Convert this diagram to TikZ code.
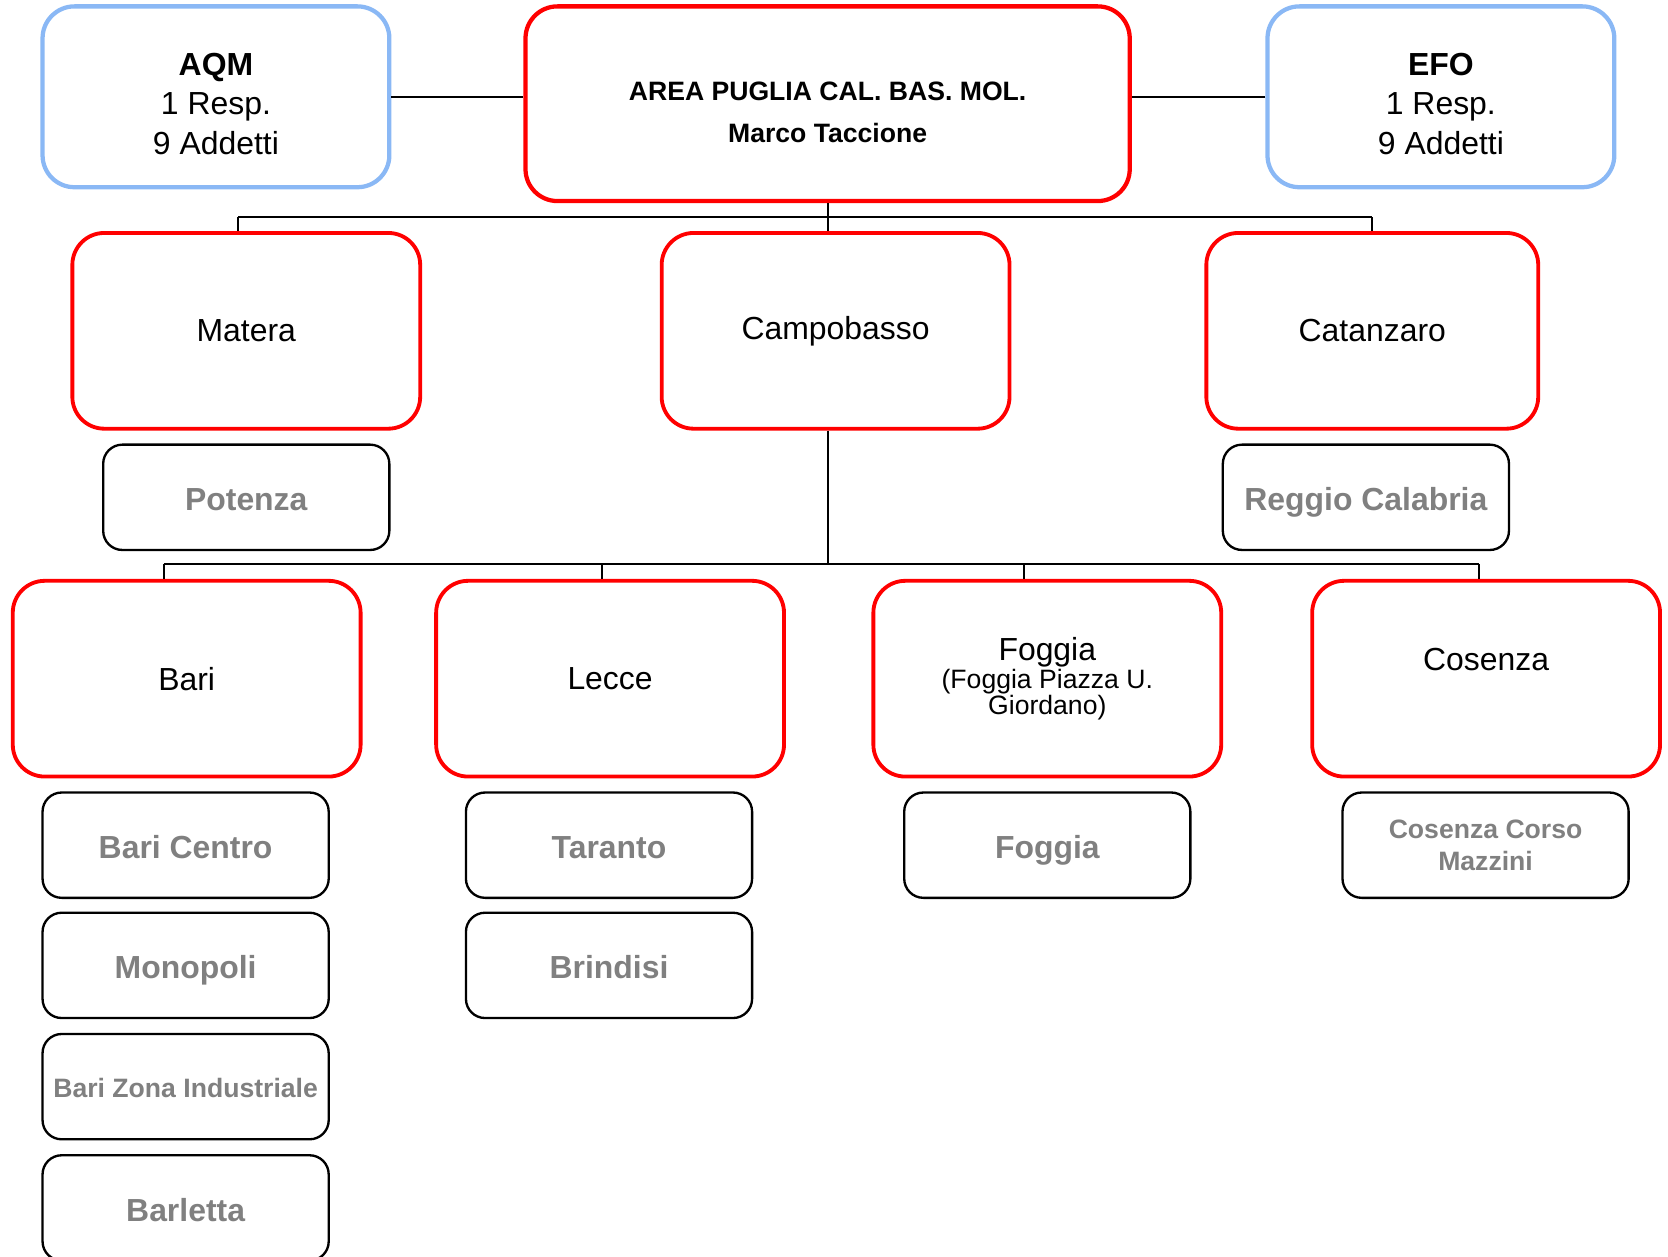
\documentclass[tikz,border=0pt]{standalone}
\usepackage{fontspec}
\setmainfont{Liberation Sans}
\definecolor{azul}{RGB}{138,184,245}
\definecolor{grigio}{RGB}{128,128,128}

\begin{document}
\begin{tikzpicture}[x=0.5pt, y=-0.5pt,
    every node/.style={font=\fontsize{15}{18.5}\selectfont, align=center, inner sep=2pt},
    staff/.style={draw=azul, line width=2pt, rounded corners=15pt,
        minimum width=163pt, minimum height=85pt},
    direzione/.style={draw=red, line width=2pt, rounded corners=15pt,
        minimum width=284pt, minimum height=91.5pt},
    sede/.style={draw=red, line width=1.8pt, rounded corners=15pt,
        minimum width=163.5pt, minimum height=92pt},
    filiale/.style={draw=black, line width=1.1pt, rounded corners=9pt,
        minimum width=134.5pt, minimum height=49.5pt, text=grigio,
        text height=13pt, text depth=0.5pt,
        font=\bfseries\fontsize{15}{18}\selectfont},
    linea/.style={line width=1pt}]
    \useasboundingbox (0,0) rectangle (1568,1181);
    % Direzione di area y staff (testo un po' sotto il centro)
    \node[staff, label={[yshift=-3.25pt]center:{\textbf{AQM}\\1 Resp.\\9 Addetti}}] (aqm) at (203,91) {};
    \node[direzione, label={[yshift=-4pt, font=\bfseries\fontsize{12.5}{20}\selectfont]center:{AREA PUGLIA CAL. BAS. MOL.\\Marco Taccione}}] (dir) at (778,97.5) {};
    \node[staff, label={[yshift=-3.25pt]center:{\textbf{EFO}\\1 Resp.\\9 Addetti}}] (efo) at (1354.5,91) {};
    % Sedi del primo livello
    \node[sede] (matera) at (231.5,311) {Matera};
    \node[sede] (campobasso) at (785.5,311) {Campobasso};
    \node[sede, minimum width=156pt] (catanzaro) at (1290,311) {Catanzaro};
    \node[filiale] (potenza) at (231.5,467.5) {Potenza};
    \node[filiale] (reggio) at (1284,467.5) {Reggio Calabria};
    % Sedi del secondo livello
    \node[sede] (bari) at (175.5,638) {Bari};
    \node[sede] (lecce) at (573.5,638) {Lecce};
    \node[sede, font=\fontsize{12.5}{12}\selectfont] (foggia) at (984.5,638)
        {{\fontsize{15}{12}\selectfont Foggia}\\[0pt](Foggia Piazza U.\\Giordano)};
    \node[sede] (cosenza) at (1397,638) {Cosenza\\\mbox{}};
    % Filiali (sotto ogni sede)
    \node[filiale] (baricentro) at (174.5,794.5) {Bari Centro};
    \node[filiale] (monopoli) at (174.5,907.5) {Monopoli};
    \node[filiale, text height=10.5pt, font=\bfseries\fontsize{12.5}{15}\selectfont] (barizona) at (174.5,1021.5) {Bari Zona Industriale};
    \node[filiale] (barletta) at (174.5,1135.5) {Barletta};
    \node[filiale] (taranto) at (572.5,794.5) {Taranto};
    \node[filiale] (brindisi) at (572.5,907.5) {Brindisi};
    \node[filiale] (foggiafil) at (984.5,794.5) {Foggia};
    \node[filiale, text height=, text depth=, font=\bfseries\fontsize{12.5}{15}\selectfont] (cosenzafil) at (1396.5,794.5) {Cosenza Corso\\Mazzini};
    % Collegamenti dello staff
    \draw[linea] (aqm.east) -- (aqm.east -| dir.west);
    \draw[linea] (efo.west) -- (efo.west -| dir.east);
    % Primo bus: y = 204
    \coordinate (b1) at (778,204);
    \coordinate (b1sx) at (224,204);
    \coordinate (b1dx) at (1290,204);
    \draw[linea] (dir.south) -- (b1);
    \draw[linea] (b1sx) -- (b1dx);
    \draw[linea] (b1sx) -- (b1sx |- matera.north);
    \draw[linea] (b1) -- (b1 |- campobasso.north);
    \draw[linea] (b1dx) -- (catanzaro.north);
    % Secondo bus: y = 530, da Campobasso
    \coordinate (b2) at (778,530);
    \coordinate (b2sx) at (154,530);
    \coordinate (b2dx) at (1390,530);
    \draw[linea] (b2 |- campobasso.south) -- (b2);
    \draw[linea] (b2sx) -- (b2dx);
    \foreach \x/\n in {154/bari, 566/lecce, 963/foggia, 1390/cosenza}{
        \coordinate (t) at (\x,530);
        \draw[linea] (t) -- (t |- \n.north);
    }
\end{tikzpicture}
\end{document}
